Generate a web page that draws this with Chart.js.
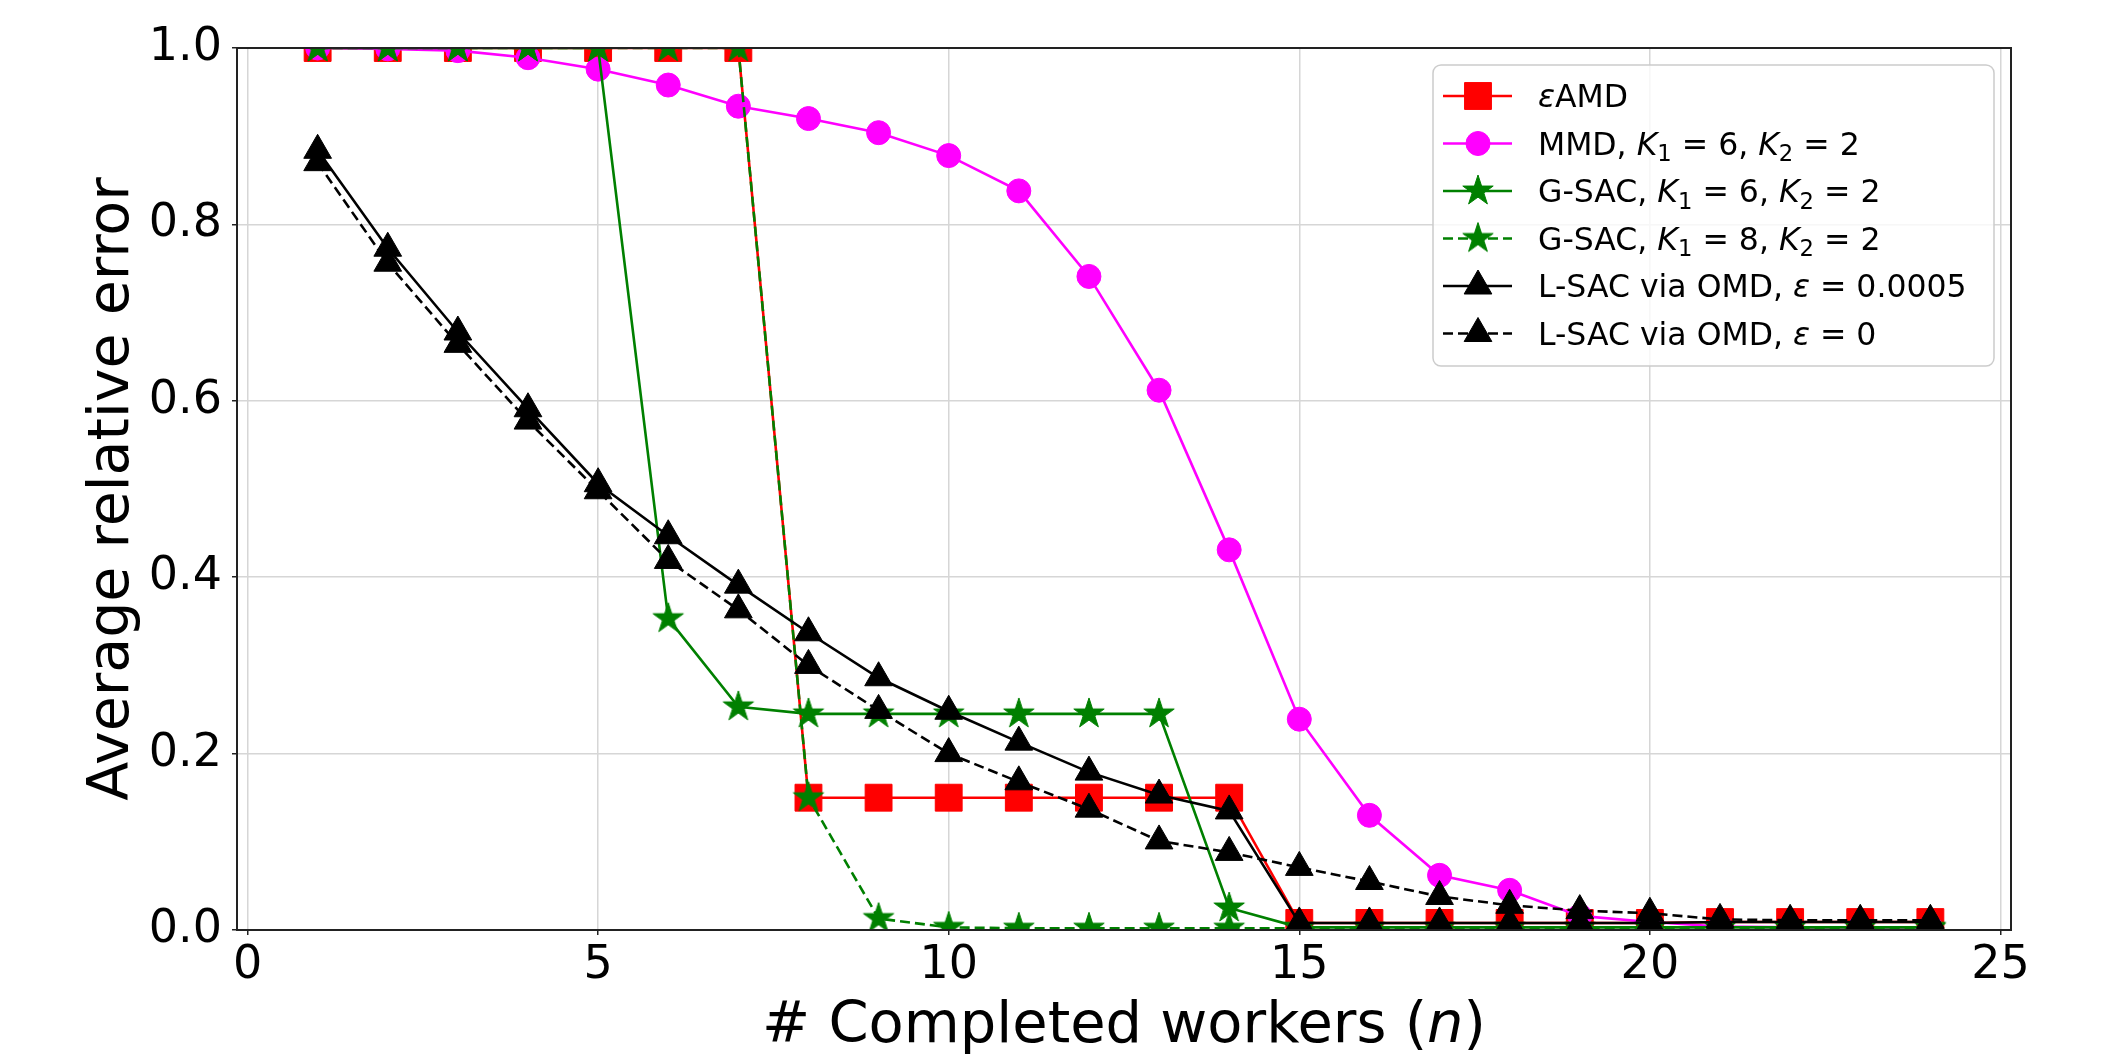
<!DOCTYPE html>
<html>
<head>
<meta charset="utf-8">
<script src="https://cdn.jsdelivr.net/npm/chart.js@4.4.1/dist/chart.umd.min.js"></script>
<style>
  html, body { margin: 0; padding: 0; background: #fff; }
  #wrap { width: 2105px; height: 1057px; }
</style>
</head>
<body>
<div id="wrap"><canvas id="chart" width="2105" height="1057"></canvas></div>
<script>
// number of completed workers on the x axis
var workers = [1, 2, 3, 4, 5, 6, 7, 8, 9, 10, 11, 12, 13, 14, 15, 16, 17, 18, 19, 20, 21, 22, 23, 24];
var xTicks = [0, 5, 10, 15, 20, 25];
var yTicks = [0, 0.2, 0.4, 0.6, 0.8, 1.0];

// average relative error
var eamd   = [1, 1, 1, 1, 1, 1, 1, 0.15, 0.15, 0.15, 0.15, 0.15, 0.15, 0.15, 0.008, 0.008, 0.008, 0.008, 0.008, 0.008, 0.009, 0.009, 0.009, 0.009];
var mmd    = [1.0, 0.999, 0.997, 0.989, 0.976, 0.958, 0.934, 0.92, 0.904, 0.878, 0.838, 0.741, 0.612, 0.431, 0.239, 0.13, 0.062, 0.045, 0.016, 0.009, 0.004, 0.003, 0.003, 0.003];
var gsac6  = [1, 1, 1, 1, 1, 0.353, 0.253, 0.245, 0.245, 0.245, 0.245, 0.245, 0.245, 0.025, 0.003, 0.003, 0.003, 0.003, 0.003, 0.003, 0.003, 0.003, 0.003, 0.003];
var gsac8  = [1, 1, 1, 1, 1, 1, 1, 0.15, 0.013, 0.003, 0.002, 0.002, 0.002, 0.002, 0.002, 0.002, 0.002, 0.002, 0.002, 0.002, 0.002, 0.002, 0.002, 0.002];
var lsac   = [0.884, 0.773, 0.678, 0.591, 0.506, 0.447, 0.391, 0.337, 0.286, 0.248, 0.213, 0.179, 0.153, 0.135, 0.008, 0.008, 0.008, 0.008, 0.008, 0.008, 0.009, 0.009, 0.009, 0.009];
var lsac0  = [0.870, 0.756, 0.664, 0.577, 0.498, 0.419, 0.363, 0.300, 0.249, 0.200, 0.168, 0.137, 0.101, 0.088, 0.071, 0.055, 0.038, 0.028, 0.022, 0.019, 0.012, 0.011, 0.011, 0.011];

var seriesLabels = [
    '$\u03b5$AMD',
    'MMD, $K_1 = 6$, $K_2 = 2$',
    'G-SAC, $K_1 = 6$, $K_2 = 2$',
    'G-SAC, $K_1 = 8$, $K_2 = 2$',
    'L-SAC via OMD, $\u03b5 = 0.0005$',
    'L-SAC via OMD, $\u03b5 = 0$'
];

var FONT = '"DejaVu Sans", "Liberation Sans", sans-serif';

function points(values) {
    return workers.map(function (n, i) { return {x: n, y: values[i]}; });
}

// filled five point star, like matplotlib's '*' marker
function makeStar(color, R) {
    var c = document.createElement('canvas');
    var s = Math.ceil(2 * R + 4);
    c.width = s;
    c.height = s;
    var g = c.getContext('2d');
    g.translate(s / 2, s / 2);
    g.beginPath();
    for (var i = 0; i < 10; i++) {
        var r = i % 2 === 0 ? R : R * 0.381966;
        var a = -Math.PI / 2 + i * Math.PI / 5;
        if (i === 0) g.moveTo(r * Math.cos(a), r * Math.sin(a));
        else g.lineTo(r * Math.cos(a), r * Math.sin(a));
    }
    g.closePath();
    g.fillStyle = color;
    g.fill();
    g.strokeStyle = color;
    g.lineWidth = 1;
    g.stroke();
    return c;
}

var greenStar = makeStar('#008000', 16);

// split a label with $...$ parts into runs (italic letters, subscripts)
function mathRuns(text) {
    var runs = [];
    text.split('$').forEach(function (part, i) {
        if (i % 2 === 0) {
            if (part) runs.push({t: part});
            return;
        }
        for (var k = 0; k < part.length; k++) {
            var c = part[k];
            if (c === '_') runs.push({t: part[++k], sub: true});
            else if (c === '=') runs.push({t: ' = '});
            else if (/[A-Za-z\u03b5]/.test(c)) runs.push({t: c, italic: true});
            else if (c !== ' ') runs.push({t: c});
        }
    });
    return runs;
}

function drawMath(ctx, text, x, y, size, align) {
    var runs = mathRuns(text);
    var total = 0;
    runs.forEach(function (r) {
        var sz = r.sub ? size * 0.72 : size;
        r.font = (r.italic ? 'italic ' : '') + sz + 'px ' + FONT;
        ctx.font = r.font;
        r.w = ctx.measureText(r.t).width;
        total += r.w;
    });
    var cx = align === 'center' ? x - total / 2 : x;
    ctx.textAlign = 'left';
    ctx.textBaseline = 'alphabetic';
    ctx.fillStyle = '#000';
    runs.forEach(function (r) {
        ctx.font = r.font;
        ctx.fillText(r.t, cx, r.sub ? y + size * 0.22 : y);
        cx += r.w;
    });
}

// box around the plot area, drawn over the lines like matplotlib spines
var framePlugin = {
    id: 'frame',
    afterDatasetsDraw: function (chart) {
        var a = chart.chartArea;
        var ctx = chart.ctx;
        ctx.save();
        ctx.strokeStyle = '#222';
        ctx.lineWidth = 2;
        ctx.strokeRect(a.left, a.top, a.right - a.left, a.bottom - a.top);
        ctx.restore();
    }
};

// x axis title with italic n
var xTitlePlugin = {
    id: 'xTitle',
    afterDraw: function (chart) {
        var a = chart.chartArea;
        chart.ctx.save();
        drawMath(chart.ctx, '# Completed workers ($n$)', (a.left + a.right) / 2, 1042, 57.5, 'center');
        chart.ctx.restore();
    }
};

// legend with line + marker samples, matplotlib style
var legendPlugin = {
    id: 'mplLegend',
    afterDraw: function (chart) {
        var ctx = chart.ctx;
        var box = {x: 1433, y: 65, w: 561, h: 301};
        ctx.save();
        ctx.beginPath();
        ctx.roundRect(box.x, box.y, box.w, box.h, 8);
        ctx.fillStyle = 'rgba(255,255,255,0.8)';
        ctx.fill();
        ctx.strokeStyle = '#cccccc';
        ctx.lineWidth = 1.5;
        ctx.stroke();

        chart.data.datasets.forEach(function (ds, i) {
            var y = box.y + 31 + i * 47.5;
            ctx.beginPath();
            ctx.setLineDash(ds.borderDash || []);
            ctx.strokeStyle = ds.borderColor;
            ctx.lineWidth = ds.borderWidth;
            ctx.moveTo(1443, y);
            ctx.lineTo(1512, y);
            ctx.stroke();
            ctx.setLineDash([]);

            ctx.fillStyle = ds.pointBackgroundColor;
            ctx.strokeStyle = ds.pointBorderColor;
            ctx.lineWidth = ds.pointBorderWidth;
            Chart.helpers.drawPoint(ctx, {
                pointStyle: ds.pointStyle,
                radius: ds.pointRadius,
                borderWidth: ds.pointBorderWidth,
                rotation: 0
            }, 1478, y);

            drawMath(ctx, ds.label, 1538, y + 11, 31.5, 'left');
        });
        ctx.restore();
    }
};

function series(label, values, color, style, radius, dashed, order) {
    return {
        label: label,
        data: points(values),
        borderColor: color,
        backgroundColor: color,
        borderWidth: 2.6,
        borderDash: dashed ? [10, 5] : [],
        pointStyle: style,
        pointRadius: radius,
        pointBackgroundColor: color,
        pointBorderColor: color,
        pointBorderWidth: 1,
        tension: 0,
        order: order
    };
}

var ctx = document.getElementById('chart').getContext('2d');
var chart = new Chart(ctx, {
    type: 'line',
    data: {
        datasets: [
            series(seriesLabels[0], eamd, '#ff0000', 'rect', 19, false, 6),
            series(seriesLabels[1], mmd, '#ff00ff', 'circle', 12, false, 5),
            series(seriesLabels[2], gsac6, '#008000', greenStar, 16, false, 4),
            series(seriesLabels[3], gsac8, '#008000', greenStar, 16, true, 3),
            series(seriesLabels[4], lsac, '#000000', 'triangle', 16, false, 2),
            series(seriesLabels[5], lsac0, '#000000', 'triangle', 16, true, 1)
        ]
    },
    options: {
        responsive: false,
        animation: false,
        devicePixelRatio: 1,
        events: [],
        layout: {padding: {top: 48, right: 94, left: 0, bottom: 0}},
        plugins: {
            legend: {display: false},
            tooltip: {enabled: false}
        },
        scales: {
            x: {
                type: 'linear',
                min: -0.15,
                max: 25.15,
                afterBuildTicks: function (s) { s.ticks = xTicks.map(function (v) { return {value: v}; }); },
                afterFit: function (s) { s.height = 127; },
                grid: {color: '#d6d6d6', lineWidth: 1.5, tickColor: '#222', tickLength: 5, tickWidth: 1.5},
                border: {display: false},
                ticks: {
                    color: '#000',
                    padding: 3,
                    maxRotation: 0,
                    font: {family: FONT, size: 46},
                    callback: function (v) { return String(v); }
                }
            },
            y: {
                min: 0,
                max: 1,
                afterBuildTicks: function (s) { s.ticks = yTicks.map(function (v) { return {value: v}; }); },
                afterFit: function (s) { s.width = 237; },
                grid: {color: '#d6d6d6', lineWidth: 1.5, tickColor: '#222', tickLength: 5, tickWidth: 1.5},
                border: {display: false},
                title: {
                    display: true,
                    text: 'Average relative error',
                    color: '#000',
                    font: {family: FONT, size: 57},
                    padding: {top: 79, bottom: 0}
                },
                ticks: {
                    color: '#000',
                    padding: 10,
                    font: {family: FONT, size: 46},
                    callback: function (v) { return v.toFixed(1); }
                }
            }
        }
    },
    plugins: [framePlugin, xTitlePlugin, legendPlugin]
});
</script>
</body>
</html>
